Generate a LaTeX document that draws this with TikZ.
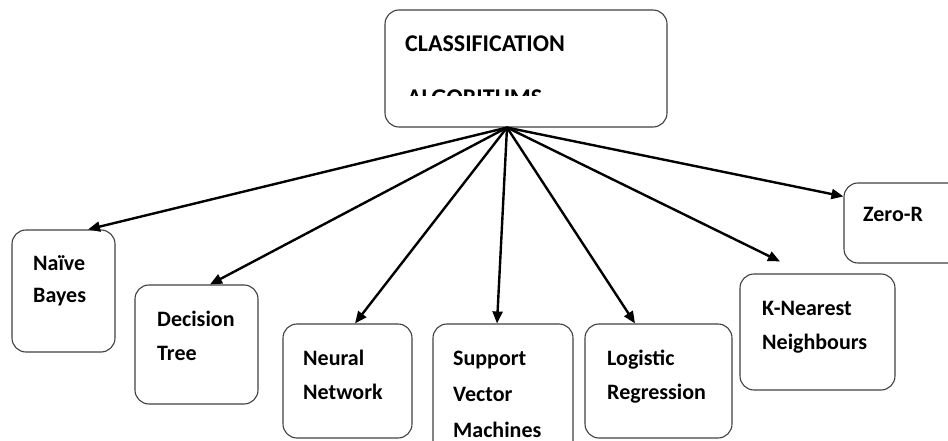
\documentclass[tikz,border=0pt]{standalone}
\usepackage{fontspec}
\setmainfont{Carlito}
\usetikzlibrary{arrows.meta}

\tikzset{
  algobox/.style={draw=black!75,line width=1.1pt,rounded corners=14pt,inner sep=0pt},
  algotext/.style={anchor=base west,inner sep=0pt,align=left,
    font=\fontsize{22}{34}\selectfont\bfseries},
  toalgo/.style={line width=2.4pt,-{Triangle[length=12pt,width=10pt]}}
}

\begin{document}
\begin{tikzpicture}[x=1pt,y=-1pt]
\useasboundingbox (0,0) rectangle (948,441);
\clip (0,0) rectangle (948,441);
% root box
\node[algobox,minimum width=282pt,minimum height=117pt] (root) at (526,68.5) {};
\node[algotext,font=\fontsize{24}{34}\selectfont\bfseries] (roottop) at (405,52) {CLASSIFICATION};
\begin{scope}
\clip (395,86) rectangle (560,95.5);
\node[algotext,font=\fontsize{24}{34}\selectfont\bfseries] (rootbot) at (407,106) {ALGORITHMS};
\end{scope}
\coordinate (hub) at ([xshift=-19pt]root.south);
% algorithm boxes
\node[algobox,minimum width=103pt,minimum height=122pt] (nb) at (63.5,291) {};
\node[algobox,minimum width=123pt,minimum height=119pt] (dt) at (196.5,344.5) {};
\node[algobox,minimum width=129pt,minimum height=114pt] (nn) at (347.5,381) {};
\node[algobox,minimum width=140pt,minimum height=131pt] (svm) at (503,389.5) {};
\node[algobox,minimum width=147pt,minimum height=114pt] (lr) at (658.5,381) {};
\node[algobox,minimum width=155pt,minimum height=116pt] (knn) at (817.5,332) {};
\node[algobox,minimum width=146pt,minimum height=80pt] (zr) at (917,223) {};
% labels (base = last line)
\node[algotext,font=\fontsize{22}{32}\selectfont\bfseries] (nbtext) at (33,302) {Naïve\\Bayes};
\node[algotext] (dttext) at (157,360) {Decision\\Tree};
\node[algotext] (nntext) at (303,399) {Neural\\Network};
\node[algotext,font=\fontsize{22}{36}\selectfont\bfseries] (svmtext) at (453,437) {Support\\Vector\\Machines};
\node[algotext] (lrtext) at (607,399) {Logistic\\Regression};
\node[algotext] (knntext) at (762,349) {K-Nearest\\Neighbours};
\node[algotext] (zrtext) at (863,222) {Zero-R};
% arrows
\draw[toalgo] (hub) -- ([xshift=24.5pt]nb.north);
\draw[toalgo] (hub) -- ([xshift=13.5pt]dt.north);
\draw[toalgo] (hub) -- ([xshift=7.5pt]nn.north);
\draw[toalgo] (hub) -- ([xshift=-6pt]svm.north);
\draw[toalgo] (hub) -- ([xshift=-23.5pt]lr.north);
\draw[toalgo] (hub) -- ([xshift=-37.5pt,yshift=12pt]knn.north);
\draw[toalgo] (hub) -- ([yshift=-14pt]zr.north west);
\end{tikzpicture}
\end{document}
